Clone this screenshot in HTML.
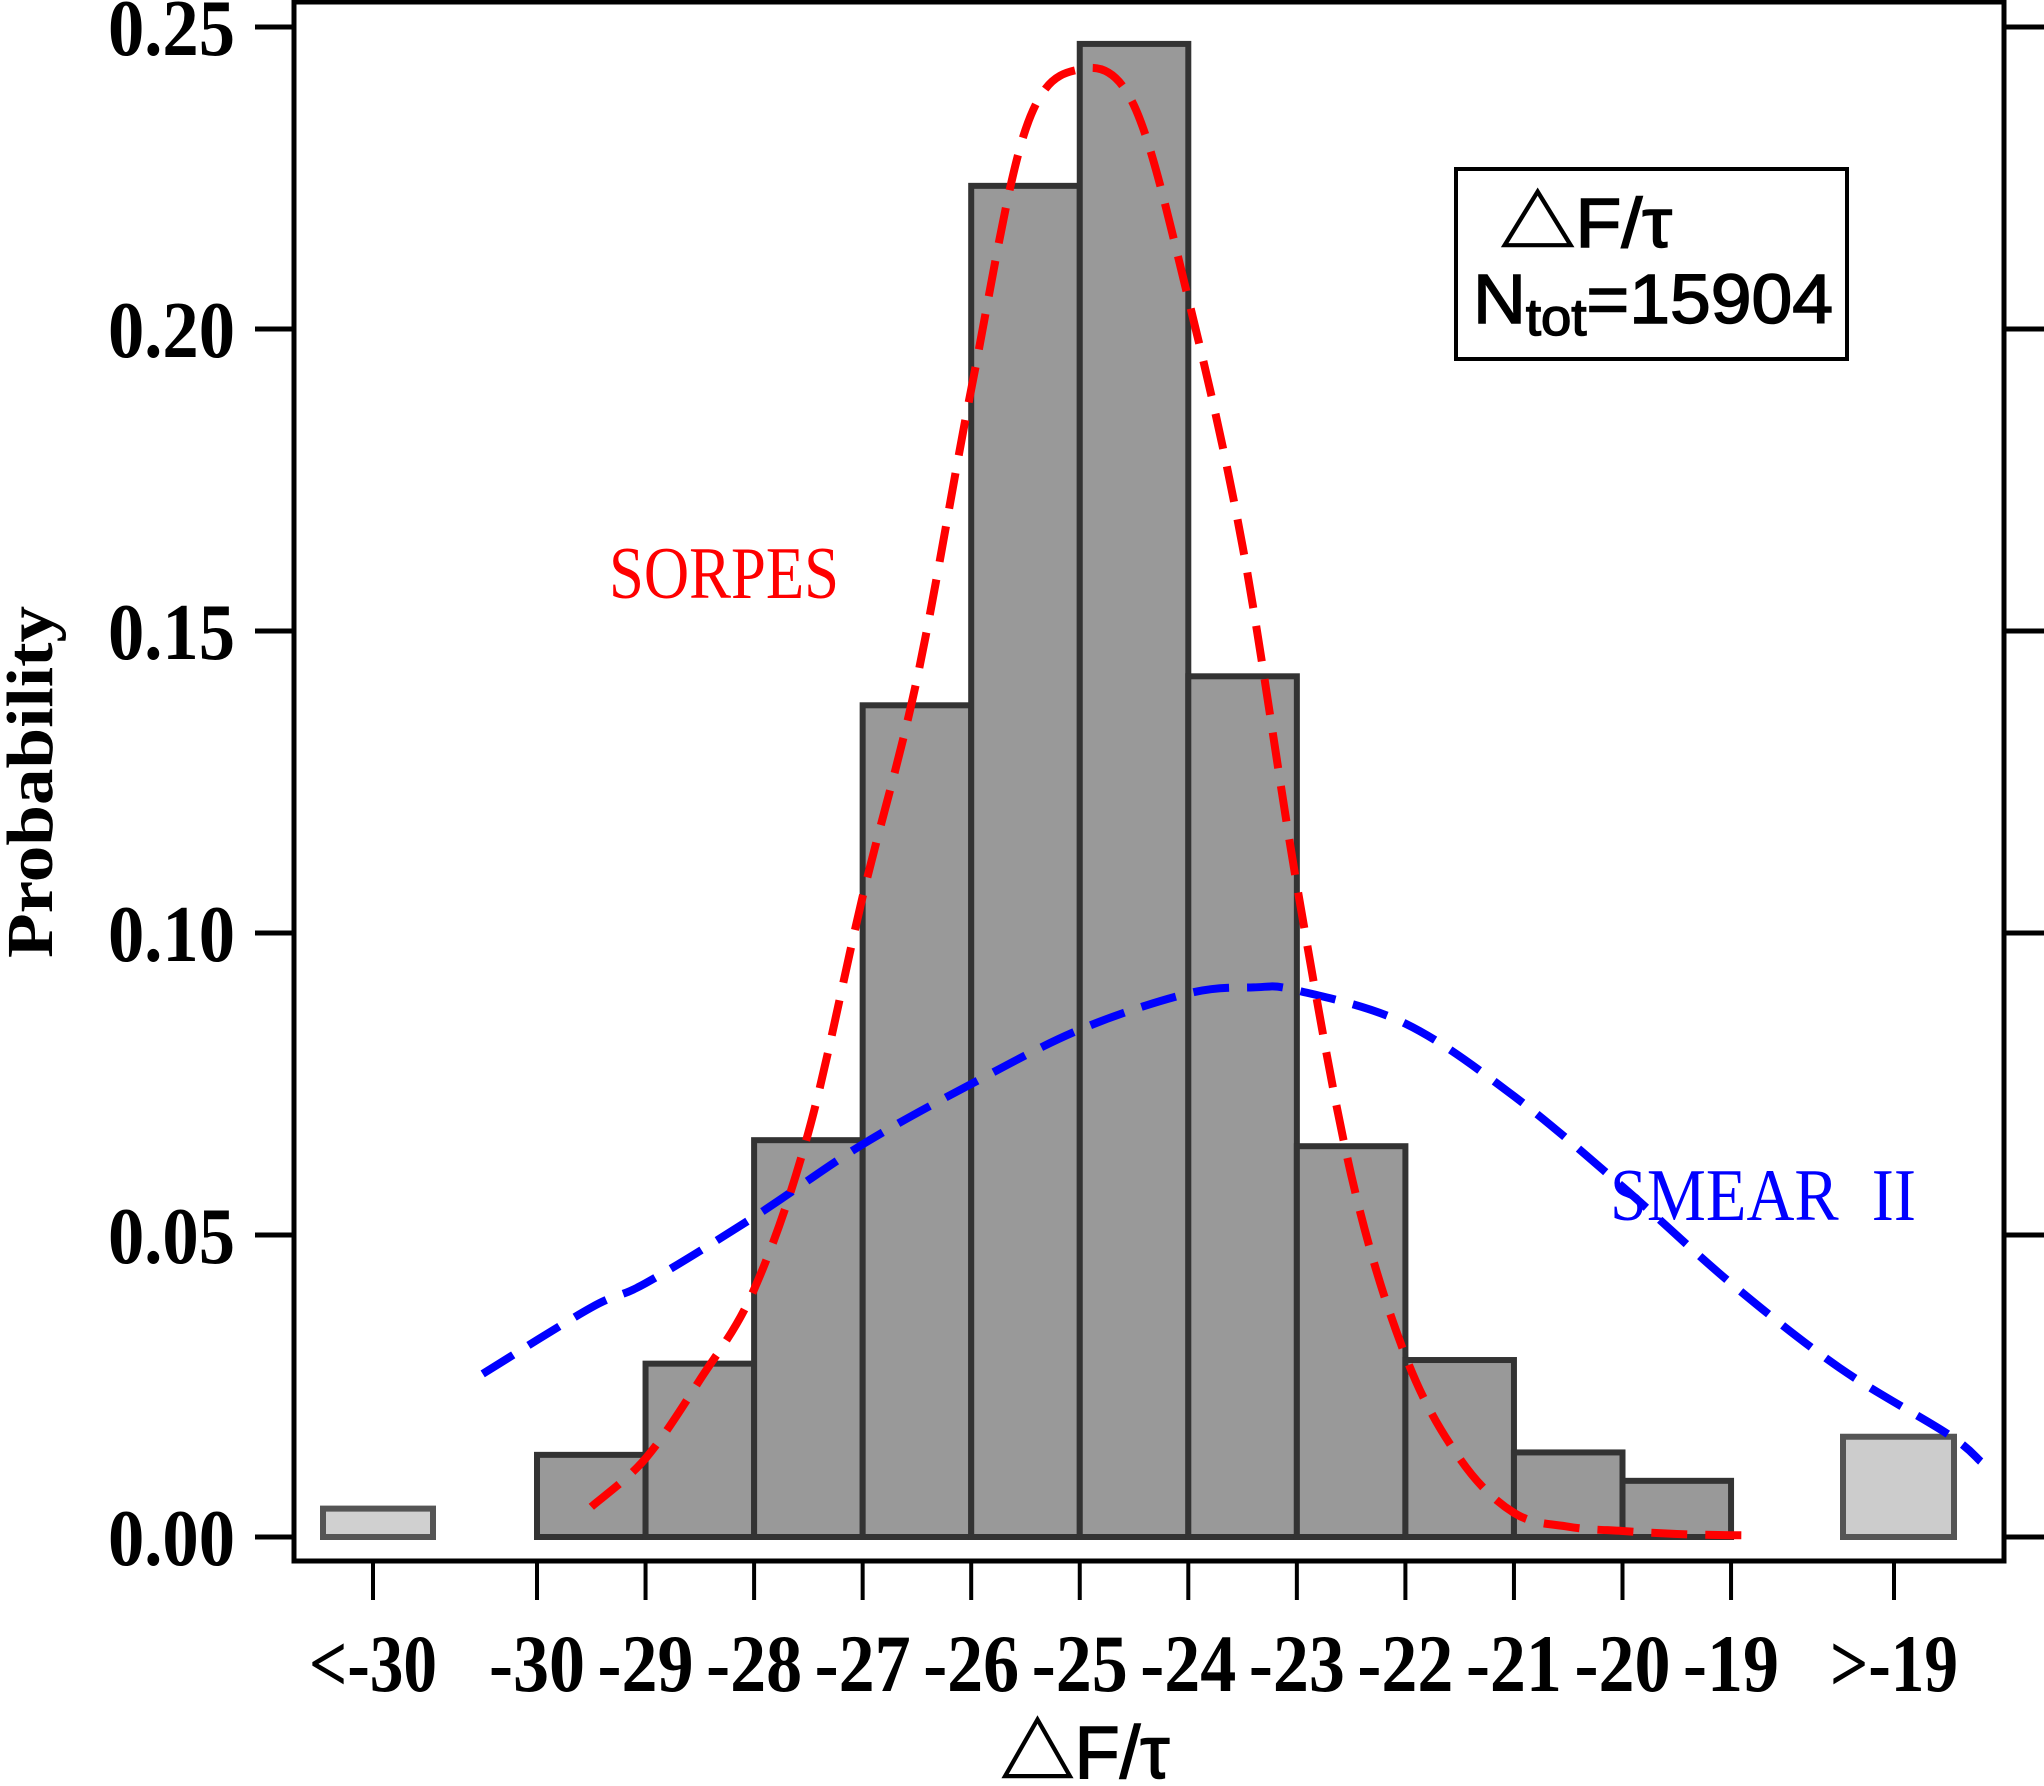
<!DOCTYPE html>
<html><head><meta charset="utf-8"><style>
html,body{margin:0;padding:0;background:#fff}
svg{display:block}
</style></head><body>
<svg id="chart" width="2044" height="1786" viewBox="0 0 2044 1786" xmlns="http://www.w3.org/2000/svg">
<g id="bars"></g>
<g id="curves"></g>
<g id="axes"></g>
<text x="609" y="598" font-family="Liberation Serif, serif" font-size="74" fill="#ff0000" textLength="230" lengthAdjust="spacingAndGlyphs">SORPES</text>
<text x="1610" y="1220" font-family="Liberation Serif, serif" font-size="74" fill="#0000ff" textLength="306" lengthAdjust="spacingAndGlyphs" xml:space="preserve">SMEAR  II</text>
<g>
<rect x="1456" y="169" width="391" height="190" fill="#fff" stroke="#000" stroke-width="4"/>
<text x="1500" y="247" font-family="Liberation Sans, Noto Sans CJK SC, sans-serif" font-size="70" fill="#000" stroke="#000" stroke-width="1.5" textLength="172" lengthAdjust="spacingAndGlyphs">△F/τ</text>
<text x="1473" y="323" font-family="Liberation Sans, Noto Sans CJK SC, sans-serif" font-size="70" fill="#000" stroke="#000" stroke-width="1.5" textLength="360" lengthAdjust="spacingAndGlyphs">N<tspan font-size="52" dy="12">tot</tspan><tspan dy="-12">=15904</tspan></text>
</g>
<text transform="translate(52,782) rotate(-90)" text-anchor="middle" font-family="Liberation Serif, serif" font-weight="bold" font-size="66" fill="#000" textLength="352" lengthAdjust="spacingAndGlyphs">Probability</text>
<text x="1085" y="1778" text-anchor="middle" font-family="Liberation Sans, Noto Sans CJK SC, sans-serif" font-size="74" fill="#000" stroke="#000" stroke-width="1.5">△F/τ</text>
</svg>
<script>
const binLabels = ['-30','-29','-28','-27','-26','-25','-24','-23','-22','-21','-20'];
const binStarts = [-30,-29,-28,-27,-26,-25,-24,-23,-22,-21,-20];
const binValues = [0.0136,0.0287,0.0657,0.1377,0.2237,0.2472,0.1425,0.0647,0.0293,0.014,0.0093];
const lowOutlier = 0.0047;
const highOutlier = 0.0166;
const xTickValues = [-30,-29,-28,-27,-26,-25,-24,-23,-22,-21,-20,-19];
const xTickLabels = ['-30','-29','-28','-27','-26','-25','-24','-23','-22','-21','-20','-19'];
const yTickValues = [0,0.05,0.10,0.15,0.20,0.25];
const yTickLabels = ['0.00','0.05','0.10','0.15','0.20','0.25'];
const sorpesX = [-29.5,-29,-28.5,-28,-27.5,-27,-26.5,-26,-25.5,-25,-24.5,-24,-23.5,-23,-22.5,-22,-21.5,-21,-20.5,-20,-19.5,-19,-18.75];
const sorpesY = [0.005,0.013,0.026,0.041,0.067,0.106,0.142,0.19,0.233,0.243,0.237,0.205,0.164,0.108,0.06,0.03,0.013,0.004,0.0017,0.001,0.0005,0.0003,0.0003];
const smearX = [-30.5,-29.5,-29,-28,-27,-26,-25,-24,-23.4,-23,-22,-21,-20,-19,-18,-17,-16.7];
const smearY = [0.027,0.038,0.042,0.053,0.065,0.075,0.084,0.090,0.091,0.0905,0.085,0.073,0.058,0.042,0.028,0.017,0.0125];

const NS='http://www.w3.org/2000/svg';
const X0=537, XS=108.55, Y0=1537, YS=302/0.05;
function xs(v){return X0+(v+30)*XS;}
function ys(p){return Y0-p*YS;}
function mk(tag,attrs,parent){const e=document.createElementNS(NS,tag);for(const k in attrs)e.setAttribute(k,attrs[k]);parent.appendChild(e);return e;}
const bars=document.getElementById('bars'), curves=document.getElementById('curves'), axes=document.getElementById('axes');

binValues.forEach((v,i)=>{
  const r=mk('rect',{x:xs(binStarts[i]),y:ys(v),width:XS,height:ys(0)-ys(v),fill:'#999999',stroke:'#333333','stroke-width':6},bars);
  
  
});
const lo=mk('rect',{x:323,y:ys(lowOutlier),width:110,height:ys(0)-ys(lowOutlier),fill:'#d0d0d0',stroke:'#555','stroke-width':6},bars);


const hi=mk('rect',{x:1843,y:ys(highOutlier),width:111,height:ys(0)-ys(highOutlier),fill:'#cccccc',stroke:'#555','stroke-width':6},bars);



function curve(X,Y,color,name){
  const P=X.map((x,i)=>[xs(x),ys(Y[i])]);
  let d='M'+P[0][0].toFixed(1)+' '+P[0][1].toFixed(1);
  for(let i=0;i<P.length-1;i++){
    const p0=P[Math.max(0,i-1)],p1=P[i],p2=P[i+1],p3=P[Math.min(P.length-1,i+2)];
    const c1=[p1[0]+(p2[0]-p0[0])/6,p1[1]+(p2[1]-p0[1])/6];
    const c2=[p2[0]-(p3[0]-p1[0])/6,p2[1]-(p3[1]-p1[1])/6];
    d+=' C'+c1[0].toFixed(1)+' '+c1[1].toFixed(1)+' '+c2[0].toFixed(1)+' '+c2[1].toFixed(1)+' '+p2[0].toFixed(1)+' '+p2[1].toFixed(1);
  }
  const p=mk('path',{d:d,fill:'none',stroke:color,'stroke-width':8,'stroke-dasharray':'36 18'},curves);
  
  
}
curve(smearX,smearY,'#0000ff','smear-curve');
curve(sorpesX,sorpesY,'#ff0000','sorpes-curve');

const fr=mk('rect',{x:294,y:2,width:1710,height:1559,fill:'none',stroke:'#000','stroke-width':5},axes);



yTickValues.forEach((v,i)=>{
  const t=mk('line',{x1:255,x2:294,y1:ys(v),y2:ys(v),stroke:'#000','stroke-width':5},axes);
  
  
  const t2=mk('line',{x1:2004,x2:2044,y1:ys(v),y2:ys(v),stroke:'#000','stroke-width':5},axes);
  
  
  const l=mk('text',{x:235,y:ys(v)+28,'text-anchor':'end','font-family':'Liberation Serif, serif','font-weight':'bold','font-size':80,fill:'#000',textLength:127,lengthAdjust:'spacingAndGlyphs'},axes);
  l.textContent=yTickLabels[i];
  
  
});

function xtick(px,label){
  const t=mk('line',{x1:px,x2:px,y1:1561,y2:1600,stroke:'#000','stroke-width':4},axes);
  
  
  const l=mk('text',{x:px,y:1691,'text-anchor':'middle','font-family':'Liberation Serif, serif','font-weight':'bold','font-size':82,fill:'#000',textLength:label.length*32,lengthAdjust:'spacingAndGlyphs'},axes);
  l.textContent=label;
  
  
}
xTickValues.forEach((v,i)=>xtick(xs(v),xTickLabels[i]));
xtick(373,'<-30');
xtick(1894,'>-19');
</script>
</body></html>
